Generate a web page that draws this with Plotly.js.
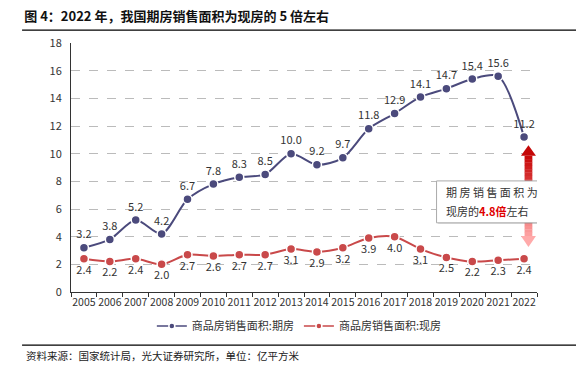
<!DOCTYPE html>
<html><head><meta charset="utf-8">
<script src="https://cdn.plot.ly/plotly-3.0.1.min.js"></script>
<style>body{margin:0;background:#fff}#c{width:576px;height:374px}</style>
</head><body><div id="c"></div>
<script>
const years = ['2005','2006','2007','2008','2009','2010','2011','2012','2013','2014','2015','2016','2017','2018','2019','2020','2021','2022'];
const presale = [3.2,3.8,5.2,4.2,6.7,7.8,8.3,8.5,10.0,9.2,9.7,11.8,12.9,14.1,14.7,15.4,15.6,11.2];
const existing = [2.4,2.2,2.4,2.0,2.7,2.6,2.7,2.7,3.1,2.9,3.2,3.9,4.0,3.1,2.5,2.2,2.3,2.4];
const name1 = '商品房销售面积:期房';
const name2 = '商品房销售面积:现房';

const F = '"Noto Sans CJK SC", "Noto Sans", sans-serif';
const blue = '#4b4a7c', red = '#c9494a';

const mk = (c) => ({size: 9, color: c, line: {color: '#fff', width: 1.5}});
const traces = [
  {x: years, y: presale, name: name1, type: 'scatter', mode: 'lines+markers+text', showlegend: false,
   line: {color: blue, width: 2, shape: 'spline', smoothing: 0.8}, marker: mk(blue),
   text: presale.map(v => v.toFixed(1)), textposition: 'top center',
   textfont: {family: F, size: 11, color: '#333'}, cliponaxis: false},
  {x: years, y: existing, name: name2, type: 'scatter', mode: 'lines+markers+text', showlegend: false,
   line: {color: red, width: 2, shape: 'spline', smoothing: 0.8}, marker: mk(red),
   text: existing.map(v => v.toFixed(1)), textposition: 'bottom center',
   textfont: {family: F, size: 11, color: '#333'}, cliponaxis: false},
  // legend entries (no data drawn)
  {x: [null], y: [null], name: name1, type: 'scatter', mode: 'lines+markers',
   line: {color: blue, width: 1.5}, marker: {size: 6, color: blue, line: {color: '#fff', width: 1.5}}},
  {x: [null], y: [null], name: name2, type: 'scatter', mode: 'lines+markers',
   line: {color: red, width: 1.5}, marker: {size: 6, color: red, line: {color: '#fff', width: 1.5}}}
];

// arrow between last two values (decoration)
const last = years.length - 1;
const topV = presale[last], botV = existing[last];
const shapes = [];
const yTip = topV - 0.6, yHeadB = topV - 1.35, yShaftB = botV + 1.65, yTip2 = botV + 0.85;
const N = 24;
function lerpC(t){
  const a=[200,10,10], b=[255,165,165];
  return 'rgb('+a.map((v,i)=>Math.round(v+(b[i]-v)*t)).join(',')+')';
}
const cx = last + 0.17;
for (let i = 0; i < N; i++) {
  const y0 = yHeadB - (yHeadB - yShaftB) * i / N;
  const y1 = yHeadB - (yHeadB - yShaftB) * (i + 1) / N - 0.02;
  shapes.push({type: 'rect', xref: 'x', yref: 'y', x0: cx - 0.15, x1: cx + 0.15, y0: y1, y1: y0,
    fillcolor: lerpC(i / N), line: {width: 0}, layer: 'above'});
}
shapes.push({type: 'path', xref: 'x', yref: 'y', layer: 'above',
  path: `M ${cx-0.29} ${yHeadB} L ${cx+0.29} ${yHeadB} L ${cx} ${yTip} Z`,
  fillcolor: 'rgb(196,8,8)', line: {width: 0}});
shapes.push({type: 'path', xref: 'x', yref: 'y', layer: 'above',
  path: `M ${cx-0.29} ${yShaftB} L ${cx+0.29} ${yShaftB} L ${cx} ${yTip2} Z`,
  fillcolor: 'rgb(255,170,170)', line: {width: 0}});
// callout box (shadow + box)
shapes.push({type: 'rect', xref: 'x', yref: 'y', layer: 'above', x0: 13.68, x1: 17.62, y0: 4.92, y1: 7.96,
  fillcolor: 'rgba(0,0,0,0.12)', line: {width: 0}});
shapes.push({type: 'rect', xref: 'x', yref: 'y', layer: 'above', x0: 13.62, x1: 17.56, y0: 5.0, y1: 8.03,
  fillcolor: '#fff', line: {color: '#aaa', width: 1}});
// title and footer rules
shapes.push({type: 'line', xref: 'paper', yref: 'paper', x0: -0.105, x1: 1.09, y0: 1.052, y1: 1.052, line: {color: '#000', width: 1.2}});
shapes.push({type: 'line', xref: 'paper', yref: 'paper', x0: -0.105, x1: 1.09, y0: -0.213, y1: -0.213, line: {color: '#000', width: 1.2}});

const annotations = [
  {xref: 'x', yref: 'y', x: 13.92, y: 7.2, xanchor: 'left', yanchor: 'middle',
   text: '期 房 销 售 面 积 为', showarrow: false, font: {family: F, size: 11, color: '#333'}},
  {xref: 'x', yref: 'y', x: 13.92, y: 5.85, xanchor: 'left', yanchor: 'middle',
   text: '现房的<b><span style="color:#e00000">4.8倍</span></b>左右', showarrow: false,
   font: {family: F, size: 11, color: '#333'}},
  {xref: 'paper', yref: 'paper', x: -0.1, y: -0.257, xanchor: 'left', yanchor: 'middle',
   text: '资料来源：国家统计局，光大证券研究所，单位：亿平方米', showarrow: false,
   font: {family: F, size: 10.5, color: '#222'}}
];

const layout = {
  width: 576, height: 374,
  margin: {l: 71, r: 39, t: 43, b: 82},
  paper_bgcolor: '#fff', plot_bgcolor: '#fff',
  font: {family: F, color: '#333'},
  title: {text: '<b>图 4：2022 年，我国期房销售面积为现房的 5 倍左右</b>', x: 0.042, xanchor: 'left',
          y: 0.955, yanchor: 'middle', yref: 'container', font: {family: F, size: 13, color: '#111'}},
  showlegend: true,
  legend: {orientation: 'h', x: 0.49, xanchor: 'center', y: -0.137, yanchor: 'middle',
           font: {family: F, size: 11, color: '#333'}, itemwidth: 30, tracegroupgap: 0},
  xaxis: {type: 'category', range: [-0.5, 17.5], showgrid: false, showline: true, linecolor: '#333', linewidth: 1,
          ticks: 'outside', tickson: 'boundaries', ticklen: 4, tickcolor: '#333', tickangle: 0,
          tickfont: {family: F, size: 10.5, color: '#333'}, fixedrange: true},
  yaxis: {range: [0, 18], dtick: 2, showline: true, linecolor: '#333', linewidth: 1,
          gridcolor: '#bbb', griddash: 'dash', gridwidth: 1, zeroline: false,
          ticks: '', tickfont: {family: F, size: 11, color: '#333'}, ticklabelstandoff: 6},
  shapes: shapes,
  annotations: annotations
};
Plotly.newPlot('c', traces, layout, {staticPlot: true});
</script></body></html>
